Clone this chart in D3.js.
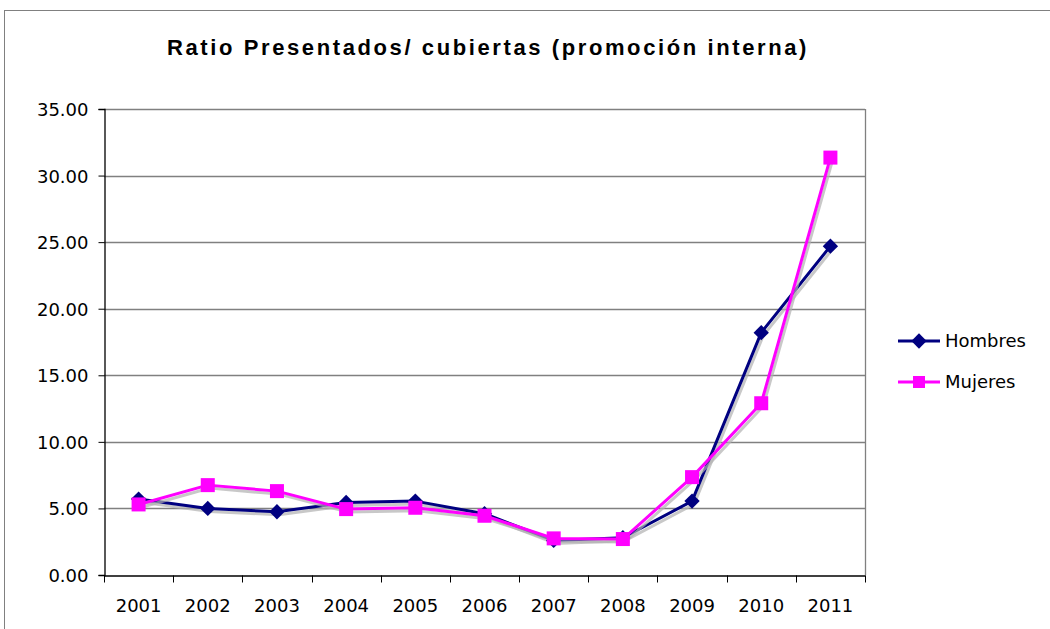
<!DOCTYPE html>
<html>
<head>
<meta charset="utf-8">
<script src="https://cdn.jsdelivr.net/npm/d3@7"></script>
<style>
  body { margin: 0; background: #fff; }
  svg { display: block; }
</style>
</head>
<body>
<script>
const years = ["2001", "2002", "2003", "2004", "2005", "2006", "2007", "2008", "2009", "2010", "2011"];
const hombres = [5.7, 5.0, 4.75, 5.45, 5.55, 4.6, 2.6, 2.8, 5.55, 18.2, 24.7];
const mujeres = [5.3, 6.75, 6.3, 4.95, 5.05, 4.45, 2.75, 2.7, 7.35, 12.9, 31.35];
const yTicks = [0, 5, 10, 15, 20, 25, 30, 35];

const width = 1050, height = 629;
const margin = { top: 109, left: 104, right: 185, bottom: 54 };

const svg = d3.select("body").append("svg")
  .attr("width", width)
  .attr("height", height);

// outer frame
svg.append("rect")
  .attr("x", 4.5).attr("y", 10.5)
  .attr("width", width + 10).attr("height", height + 10)
  .attr("fill", "#fff").attr("stroke", "#808080").attr("stroke-width", 1);

svg.append("text")
  .attr("x", 488).attr("y", 55)
  .attr("text-anchor", "middle")
  .attr("font-family", "Liberation Sans Narrow, Arial Narrow, Liberation Sans, sans-serif")
  .attr("font-weight", "bold")
  .attr("font-size", 22)
  .attr("letter-spacing", 2.6)
  .attr("fill", "#000")
  .text("Ratio Presentados/ cubiertas (promoción interna)");

const x = d3.scaleBand()
  .domain(years)
  .range([margin.left, width - margin.right]);

const y = d3.scaleLinear()
  .domain([0, 35])
  .range([height - margin.bottom, margin.top]);

// gridlines
svg.append("g")
  .selectAll("line")
  .data(yTicks.slice(1))
  .join("line")
  .attr("x1", margin.left).attr("x2", width - margin.right)
  .attr("y1", d => Math.round(y(d)) + 0.5).attr("y2", d => Math.round(y(d)) + 0.5)
  .attr("stroke", "#808080").attr("stroke-width", 1.3);

// right border of plot
svg.append("line")
  .attr("x1", width - margin.right + 0.5).attr("x2", width - margin.right + 0.5)
  .attr("y1", margin.top).attr("y2", height - margin.bottom)
  .attr("stroke", "#808080").attr("stroke-width", 1.3);

// y axis
const yAxis = svg.append("g")
  .attr("transform", `translate(${margin.left + 0.5},0)`)
  .call(d3.axisLeft(y).tickValues(yTicks).tickFormat(d3.format(".2f")).tickSize(6).tickPadding(10));

// x axis
const xAxis = svg.append("g")
  .attr("transform", `translate(0,${height - margin.bottom + 0.5})`)
  .call(d3.axisBottom(x).tickSize(0).tickPadding(24));

xAxis.selectAll(".tick line").remove();
// category boundary ticks
xAxis.append("g")
  .selectAll("line")
  .data(d3.range(years.length + 1))
  .join("line")
  .attr("x1", i => Math.round(margin.left + i * x.step()) + 0.5)
  .attr("x2", i => Math.round(margin.left + i * x.step()) + 0.5)
  .attr("y1", 0).attr("y2", 7)
  .attr("stroke", "#000");

[yAxis, xAxis].forEach(g => {
  g.select(".domain").attr("stroke", "#000").attr("stroke-width", 1.3);
  g.selectAll(".tick line").attr("stroke", "#000");
  g.selectAll("text")
    .attr("font-family", "DejaVu Sans, Verdana, sans-serif")
    .attr("font-size", 18)
    .attr("fill", "#000");
});
yAxis.selectAll("text").attr("dy", "0.36em");

const cx = d => x(d) + x.bandwidth() / 2;

const line = d3.line()
  .x((d, i) => cx(years[i]))
  .y(d => y(d));

const series = [
  { name: "Hombres", values: hombres, color: "#000080", marker: "diamond" },
  { name: "Mujeres", values: mujeres, color: "#ff00ff", marker: "square" }
];

const diamond = d3.symbol().type(d3.symbolDiamond2).size(150);

series.forEach(s => {
  // drop shadow
  svg.append("path")
    .attr("d", line(s.values))
    .attr("transform", "translate(2,3)")
    .attr("fill", "none")
    .attr("stroke", "#b0b0b0")
    .attr("stroke-width", 3)
    .attr("opacity", 0.7);

  svg.append("path")
    .attr("d", line(s.values))
    .attr("fill", "none")
    .attr("stroke", s.color)
    .attr("stroke-width", 3)
    .attr("stroke-linejoin", "round");

  const g = svg.append("g");
  if (s.marker === "diamond") {
    g.selectAll("path")
      .data(s.values)
      .join("path")
      .attr("d", diamond)
      .attr("transform", (d, i) => `translate(${cx(years[i])},${y(d)})`)
      .attr("fill", s.color);
  } else {
    g.selectAll("rect")
      .data(s.values)
      .join("rect")
      .attr("x", (d, i) => cx(years[i]) - 7)
      .attr("y", d => y(d) - 7)
      .attr("width", 14).attr("height", 14)
      .attr("fill", s.color);
  }
});

// legend
const legend = svg.append("g");
series.forEach((s, i) => {
  const ly = 341 + i * 41;
  legend.append("line")
    .attr("x1", 898).attr("x2", 940)
    .attr("y1", ly).attr("y2", ly)
    .attr("stroke", s.color).attr("stroke-width", 3);
  if (s.marker === "diamond") {
    legend.append("path")
      .attr("d", diamond)
      .attr("transform", `translate(919,${ly})`)
      .attr("fill", s.color);
  } else {
    legend.append("rect")
      .attr("x", 913).attr("y", ly - 6)
      .attr("width", 12).attr("height", 12)
      .attr("fill", s.color);
  }
  legend.append("text")
    .attr("x", 945).attr("y", ly)
    .attr("dy", "0.36em")
    .attr("font-family", "DejaVu Sans, Verdana, sans-serif")
    .attr("font-size", 18)
    .attr("fill", "#000")
    .text(s.name);
});
</script>
</body>
</html>
